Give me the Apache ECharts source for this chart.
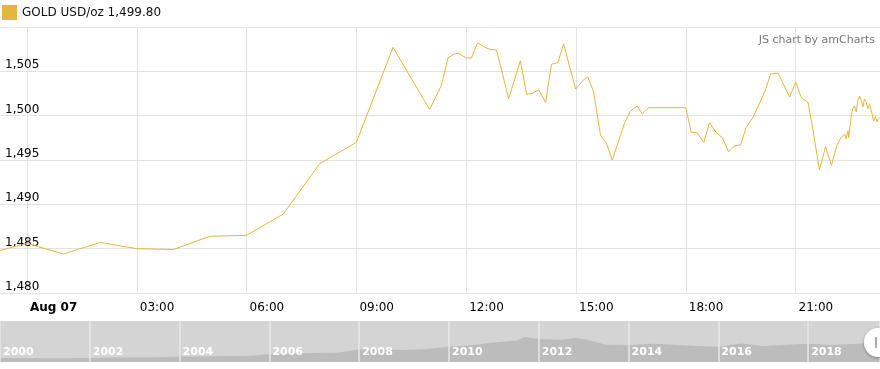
<!DOCTYPE html>
<html>
<head>
<meta charset="utf-8">
<script src="https://cdn.jsdelivr.net/npm/echarts@6/dist/echarts.min.js"></script>
<style>html,body{margin:0;padding:0;background:#fff;}#c{width:880px;height:369px;}</style>
</head>
<body>
<div id="c"></div>
<script>
// Hours relative to Aug 07 00:00
var hours = [-1, 0, 1, 2, 3, 4, 5, 6, 7, 8, 9, 10, 11, 11.32, 11.50, 11.69, 11.80, 12.01, 12.14, 12.31, 12.51, 12.64, 12.83,
  13.16, 13.48, 13.65, 13.80, 13.98, 14.17, 14.33, 14.51, 14.66, 14.99, 15.17, 15.32, 15.48, 15.67, 15.83, 15.99,
  16.33, 16.49, 16.67, 16.81, 16.99, 18.0, 18.15, 18.30, 18.49, 18.65, 18.83, 19.0, 19.17, 19.33, 19.50, 19.65, 19.82,
  20.15, 20.32, 20.52, 20.84, 21.0, 21.16, 21.34, 21.47, 21.65, 21.82, 21.98, 22.13, 22.21, 22.28, 22.35, 22.38,
  22.43, 22.45, 22.49, 22.53, 22.56, 22.61, 22.66, 22.70, 22.75, 22.79, 22.84, 22.88, 22.93, 22.97, 23.02, 23.09,
  23.13, 23.18, 23.22, 23.26, 23.30];
var prices = [1484.5, 1485.6, 1484.4, 1485.7, 1485.0, 1484.9, 1486.4, 1486.5, 1488.9, 1494.6, 1497.0, 1507.7, 1500.7, 1503.4, 1506.5, 1507.0, 1507.0, 1506.5, 1506.5, 1508.2, 1507.7, 1507.5, 1507.4,
  1501.9, 1506.2, 1502.4, 1502.5, 1502.9, 1501.5, 1505.8, 1506.0, 1508.1, 1503.0, 1503.9, 1504.4, 1502.7, 1497.8, 1496.9, 1495.0,
  1499.2, 1500.5, 1501.1, 1500.2, 1500.9, 1500.9, 1498.1, 1498.1, 1497.0, 1499.2, 1498.1, 1497.5, 1495.9, 1496.6, 1496.7, 1498.7, 1499.7,
  1502.6, 1504.7, 1504.8, 1502.1, 1503.8, 1502.0, 1501.5, 1498.5, 1493.9, 1496.5, 1494.4, 1496.7, 1497.3, 1497.7, 1497.9, 1497.4,
  1498.3, 1497.5, 1497.4, 1500.2, 1500.8, 1501.1, 1500.4, 1501.7, 1502.2, 1501.7, 1501.0, 1501.9, 1501.5, 1500.8, 1501.3, 1500.2,
  1499.4, 1499.9, 1499.3, 1499.7, 1499.8];
var hourTicks = [0, 3, 6, 9, 12, 15, 18, 21];

// Scrollbar overview (long-term)
var years = [2000, 2000.5, 2001, 2001.5, 2002, 2002.5, 2003, 2003.5, 2004, 2004.5, 2005, 2005.5, 2006, 2006.5, 2007, 2007.5,
  2008, 2008.5, 2009, 2009.5, 2010, 2010.5, 2011, 2011.5, 2011.7, 2012, 2012.5, 2012.8, 2013, 2013.5, 2014, 2014.5,
  2015, 2015.5, 2016, 2016.5, 2017, 2017.5, 2018, 2018.5, 2019, 2019.5, 2019.6];
var yearPrices = [285, 280, 265, 270, 280, 315, 350, 350, 400, 395, 425, 430, 550, 630, 640, 670,
  900, 900, 860, 930, 1100, 1200, 1400, 1550, 1800, 1650, 1600, 1720, 1650, 1250, 1230, 1320,
  1250, 1150, 1090, 1330, 1150, 1250, 1320, 1230, 1290, 1420, 1500];

var seriesName = 'GOLD USD/oz';
var lastPrice = prices[prices.length - 1];

function fmtThousands(v, d) {
  var s = v.toFixed(d);
  var parts = s.split('.');
  parts[0] = parts[0].replace(/\B(?=(\d{3})+(?!\d))/g, ',');
  return parts.join('.');
}

var mainData = hours.map(function (h, i) { return [h, prices[i]]; });
var overviewData = years.map(function (y, i) { return [y, yearPrices[i]]; });

var chart = echarts.init(document.getElementById('c'));
var font = 'DejaVu Sans, Verdana, sans-serif';
chart.setOption({
  animation: false,
  textStyle: { fontFamily: font },
  title: {
    text: 'JS chart by amCharts',
    right: 0, top: 30,
    textStyle: { fontSize: 11, fontWeight: 'normal', color: '#777', fontFamily: font }
  },
  legend: {
    left: 2, top: 5, padding: 0,
    icon: 'rect', itemWidth: 15, itemHeight: 15, itemGap: 5,
    data: [seriesName],
    formatter: function (n) { return n + ' ' + fmtThousands(lastPrice, 2); },
    textStyle: { fontSize: 12, color: '#111', fontFamily: font }
  },
  grid: [
    { left: 0, right: 0, top: 27, bottom: 76 },
    { left: 0, right: 0, top: 321, bottom: 7, show: true, backgroundColor: '#d4d4d4', borderWidth: 0 }
  ],
  xAxis: [
    {
      type: 'value', gridIndex: 0,
      min: -0.738, max: 23.306,
      axisLine: { show: false },
      axisTick: { show: false, customValues: hourTicks },
      splitLine: { show: true, lineStyle: { color: '#e3e3e3', width: 1 } },
      axisLabel: {
        customValues: hourTicks,
        align: 'left', margin: 9, padding: [0, 0, 0, 3],
        fontSize: 12, color: '#000', fontFamily: font,
        formatter: function (v) {
          if (v === 0) return '{b|Aug 07}';
          return (v < 10 ? '0' : '') + v + ':00';
        },
        rich: { b: { fontWeight: 'bold', fontSize: 12, color: '#000', fontFamily: font } }
      }
    },
    {
      type: 'value', gridIndex: 1, z: 5,
      min: 2000, max: 2019.6, interval: 2,
      axisLine: { show: false },
      axisTick: { show: false },
      splitLine: { show: true, lineStyle: { color: '#e8e8e8', width: 1.5 } },
      axisLabel: {
        inside: true, align: 'left', margin: 4, padding: [0, 0, 0, 3],
        color: '#fff', fontWeight: 'bold', fontSize: 11, fontFamily: font,
        showMaxLabel: false,
        formatter: function (v) { return String(v); }
      }
    }
  ],
  yAxis: [
    {
      type: 'value', gridIndex: 0,
      min: 1480, max: 1510, interval: 5,
      axisLine: { show: false },
      axisTick: { show: false },
      splitLine: { show: true, lineStyle: { color: '#e3e3e3', width: 1 } },
      axisLabel: {
        inside: true, margin: 5, align: 'left', verticalAlign: 'bottom',
        fontSize: 12, color: '#000', fontFamily: font,
        showMaxLabel: false,
        formatter: function (v) { return fmtThousands(v, 0); }
      }
    },
    {
      type: 'value', gridIndex: 1, min: 0, max: 2950,
      show: false, splitLine: { show: false }
    }
  ],
  series: [
    {
      name: seriesName, type: 'line', xAxisIndex: 0, yAxisIndex: 0,
      data: mainData, showSymbol: false, symbol: 'none',
      lineStyle: { color: '#e5b53c', width: 1 },
      itemStyle: { color: '#e5b53c' }
    },
    {
      name: 'overview', type: 'line', xAxisIndex: 1, yAxisIndex: 1,
      data: overviewData, showSymbol: false, symbol: 'none',
      lineStyle: { width: 0, color: '#bcbcbc' },
      areaStyle: { color: '#bcbcbc', opacity: 1 },
      z: 1
    }
  ],
  graphic: [
    {
      type: 'rect', z: 100,
      shape: { x: 864, y: 328, width: 32, height: 29, r: 14 },
      style: { fill: '#ffffff', shadowBlur: 3, shadowColor: 'rgba(0,0,0,0.35)', shadowOffsetY: 1 }
    },
    {
      type: 'rect', z: 101,
      shape: { x: 875, y: 337, width: 2, height: 11 },
      style: { fill: '#aaaaaa' }
    }
  ]
});
</script>
</body>
</html>
